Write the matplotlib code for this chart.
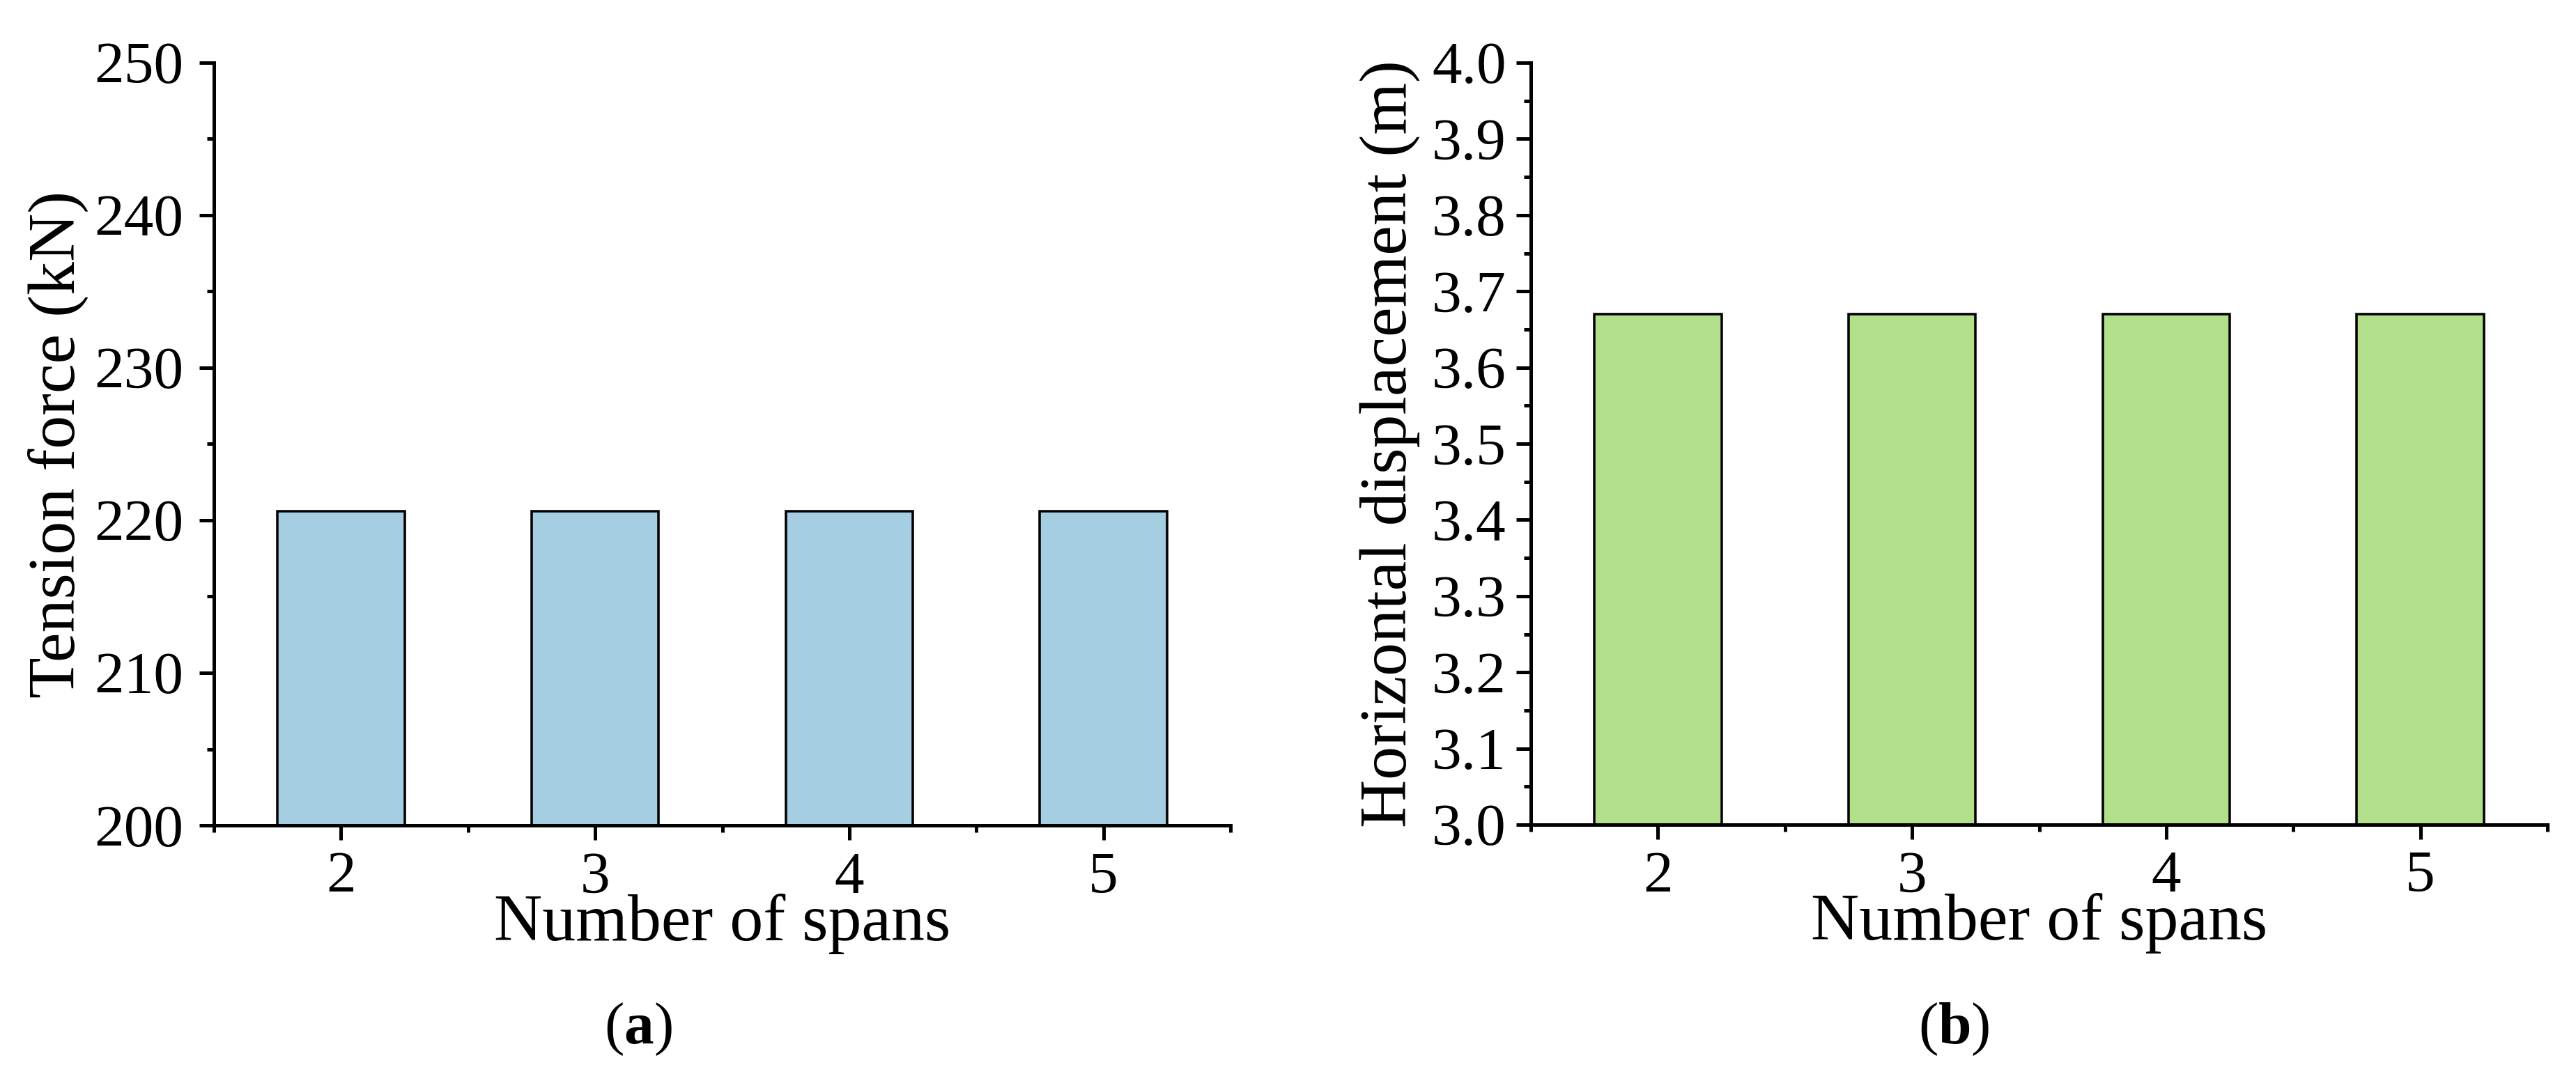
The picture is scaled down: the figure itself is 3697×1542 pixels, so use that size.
import matplotlib
matplotlib.use("Agg")
import matplotlib.pyplot as plt
from matplotlib.ticker import MultipleLocator, FormatStrFormatter

# data
spans = [2, 3, 4, 5]
tension_kN = [220.6, 220.6, 220.6, 220.6]
horiz_disp_m = [3.67, 3.67, 3.67, 3.67]

plt.rcParams["font.family"] = ["Liberation Serif", "DejaVu Serif"]
plt.rcParams["mathtext.fontset"] = "custom"
plt.rcParams["mathtext.rm"] = "Liberation Serif"
plt.rcParams["mathtext.bf"] = "Liberation Serif:bold"

TICK_FS = 20.5
LABEL_FS = 23

W, H, DPI = 3697, 1542, 300
fig = plt.figure(figsize=(W / DPI, H / DPI), dpi=DPI)

def px_axes(x0, x1, y0, y1):
    return fig.add_axes([x0 / W, 1 - y1 / H, (x1 - x0) / W, (y1 - y0) / H])

ax1 = px_axes(307, 1766, 90, 1185)
ax2 = px_axes(2197, 3656, 90, 1184)

def style(ax, ymin, ymax, major, minor, ylabel, ylab_x, ypad):
    ax.set_xlim(1.5, 5.5)
    ax.set_ylim(ymin, ymax)
    ax.set_xticks(spans)
    ax.xaxis.set_minor_locator(MultipleLocator(0.5))
    ax.yaxis.set_major_locator(MultipleLocator(major))
    ax.yaxis.set_minor_locator(MultipleLocator(minor))
    for s in ["top", "right"]:
        ax.spines[s].set_visible(False)
    for s in ["left", "bottom"]:
        ax.spines[s].set_linewidth(1.2)
    ax.tick_params(which="major", direction="out", length=5, width=1.2, labelsize=TICK_FS)
    ax.tick_params(which="minor", direction="out", length=2.5, width=1.2)
    ax.tick_params(axis="x", which="major", pad=4)
    ax.tick_params(axis="y", which="major", pad=ypad)
    ax.set_xlabel("Number of spans", fontsize=LABEL_FS)
    ax.xaxis.set_label_coords(0.5, -0.1507)
    ax.xaxis.label.set_verticalalignment("baseline")
    ax.set_ylabel(ylabel, fontsize=LABEL_FS)
    ax.yaxis.set_label_coords(ylab_x, 0.5)
    ax.yaxis.label.set_verticalalignment("baseline")

ax1.bar(spans, tension_kN, width=0.5, color="#A6CEE3", edgecolor="black", linewidth=0.85)
style(ax1, 200, 250, 10, 5, "Tension force (kN)", -0.1371, 5.5)

ax2.bar(spans, horiz_disp_m, width=0.5, color="#B2DF8A", edgecolor="black", linewidth=0.85)
style(ax2, 3.0, 4.0, 0.1, 0.05, "Horizontal displacement (m)", -0.1227, 3.5)
ax2.yaxis.set_major_formatter(FormatStrFormatter("%.1f"))

fig.text(916 / W, 1 - 1478 / H, r"($\mathbf{a}$)", ha="center", va="center", fontsize=TICK_FS)
fig.text(2804 / W, 1 - 1478 / H, r"($\mathbf{b}$)", ha="center", va="center", fontsize=TICK_FS)

fig.savefig("out.png", dpi=DPI)
